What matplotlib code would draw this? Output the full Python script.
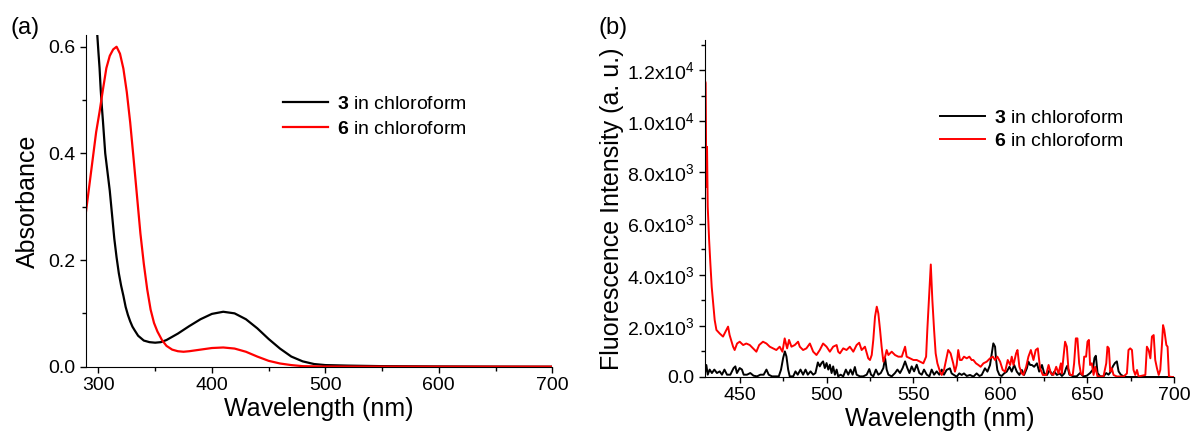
import matplotlib
matplotlib.use("Agg")
from matplotlib import pyplot as plt
from matplotlib.ticker import MultipleLocator, FixedLocator, FixedFormatter

plt.rcParams['font.family'] = ['Liberation Sans', 'DejaVu Sans']
plt.rcParams['mathtext.fontset'] = 'custom'
plt.rcParams['mathtext.rm'] = 'Liberation Sans'
plt.rcParams['mathtext.it'] = 'Liberation Sans:italic'
plt.rcParams['mathtext.bf'] = 'Liberation Sans:bold'

# (a) absorbance
abs_wl_3 = [296, 298, 299, 300, 301, 302, 303, 304, 306, 308, 310, 312, 314, 316, 318, 320,
            322, 324, 326, 328, 330, 332, 335, 340, 345, 350, 355, 360, 370, 380, 390, 400,
            410, 420, 430, 440, 450, 460, 470, 480, 490, 500, 520, 550, 600, 650, 700]
abs_3 = [0.75, 0.66, 0.622, 0.59, 0.56, 0.52, 0.488, 0.46, 0.40, 0.365, 0.33, 0.285, 0.24,
         0.205, 0.175, 0.152, 0.133, 0.112, 0.097, 0.085, 0.075, 0.068, 0.058, 0.049, 0.046,
         0.045, 0.046, 0.050, 0.062, 0.076, 0.089, 0.099, 0.103, 0.100, 0.089, 0.072, 0.052,
         0.034, 0.019, 0.010, 0.005, 0.003, 0.002, 0.001, 0.0005, 0.0002, 0.0]

abs_wl_6 = [289, 292, 295, 298, 301, 304, 307, 310, 313, 316, 319, 322, 325, 328, 331, 334,
            337, 340, 343, 346, 349, 352, 356, 360, 365, 370, 375, 380, 390, 400, 410, 420,
            430, 440, 450, 460, 470, 480, 500, 550, 600, 700]
abs_6 = [0.29, 0.34, 0.39, 0.44, 0.478, 0.52, 0.56, 0.583, 0.595, 0.600, 0.587, 0.559, 0.515,
         0.458, 0.39, 0.32, 0.25, 0.193, 0.145, 0.107, 0.082, 0.066, 0.050, 0.039, 0.032,
         0.029, 0.028, 0.029, 0.032, 0.035, 0.036, 0.034, 0.028, 0.019, 0.011, 0.006, 0.003,
         0.001, 0.0003, 0.0001, 0.0, 0.0]

# (b) fluorescence
fl_wl_6 = [430.0, 430.4, 430.8, 431.2, 431.6, 432.4, 433.1, 433.9, 434.7, 435.6, 436.6, 438.5,
           440.4, 441.3, 443.3, 444.2, 446.2, 447.1, 448.5, 450, 452, 453.8, 455.8, 457.7,
           459.6, 461.2, 463.4, 465.4, 467.3, 469.2, 471.1, 473, 474.6, 475.9, 477.3, 478.4,
           479.8, 481.7, 483.6, 484.6, 486.5, 488.4, 490.4, 492.3, 494.2, 496.1, 498, 500,
           501.9, 503.8, 505.8, 506.7, 507.7, 509.6, 511.5, 513.4, 515.4, 517.3, 518.8, 520.2,
           522.1, 524, 525, 526, 526.9, 527.9, 528.9, 529.8, 530.8, 531.7, 532.7, 533.7, 534.6,
           535.6, 537.5, 539.4, 541.3, 543.3, 545.2, 546.1, 548, 550, 551.9, 553.8, 555.7,
           557.3, 558, 559, 560, 560.9, 561.9, 562.8, 563.8, 565.3, 566.3, 567.6, 569.2, 570.0,
           571.4, 572.9, 573.9, 574.9, 575.8, 576.8, 577.8, 579.1, 580.7, 582.2, 583.5, 584.5,
           586, 587.4, 588.7, 590.3, 592.2, 594.1, 595.7, 597, 598.3, 599.9, 601.4, 602.8,
           604.3, 605.7, 606.6, 607.6, 609.1, 609.9, 611, 612.4, 613.3, 614.9, 616.2, 617.6,
           619.1, 620.4, 621.6, 622.9, 624.5, 626.4, 627.8, 629.1, 630.6, 632.2, 633.5, 634.9,
           635.4, 636.4, 637.3, 638.3, 639.2, 640.2, 641.7, 642.5, 643.5, 644.4, 645.4, 646.4,
           647.5, 648.3, 649.4, 650.2, 651, 651.7, 652.7, 653.7, 654.6, 656, 659.4, 661, 661.7,
           662.5, 663.3, 664.2, 665.2, 667.1, 671, 672.9, 673.8, 674.8, 675.8, 676.7, 677.7,
           678.7, 679.6, 683.5, 684.4, 685.4, 686.4, 687.3, 688.3, 689.2, 690.2, 691.2, 692.1,
           693.1, 693.7, 694.4, 695.6, 696.3, 697.1, 698.8, 700]
fl_6 = [11600, 11500, 7440, 9000, 6660, 5360, 4460, 3520, 2890, 2230, 1840, 1700,
        1580, 1700, 1970, 1640, 1185, 1055, 1310, 1380, 1250, 1310, 1250, 1120,
        990, 1250, 1380, 1310, 1185, 1120, 1055, 1185, 990, 1510, 1120, 1450,
        1185, 1250, 1380, 1185, 1055, 1120, 1310, 990, 860, 1055, 1310, 1185,
        990, 1185, 1250, 990, 925, 1120, 1055, 1185, 990, 1250, 1340, 1055,
        1185, 730, 665, 860, 1450, 2360, 2750, 2490, 1840, 1185, 600, 795, 1055,
        860, 990, 860, 795, 795, 1185, 795, 730, 665, 665, 600, 535,
        795, 1840, 3140, 4400, 3010, 1840, 925, 535, 210, 80, 275, 795, 1055,
        925, 535, 210, 470, 1055, 665, 665, 795, 730, 795, 665, 665,
        535, 470, 400, 535, 600, 730, 795, 665, 795, 600, 275, 210,
        665, 470, 795, 470, 925, 1055, 400, 140, 80, 400, 795, 1055,
        665, 1055, 1120, 340, 80, 80, 470, 140, 80, 400, 140, 535,
        140, 795, 1380, 1185, 340, 80, 80, 535, 1510, 1510, 535, 140,
        80, 795, 795, 1380, 1450, 470, 535, 80, 400, 20, 20, 535, 1185,
        1120, 210, 340, 80, 20, 20, 140, 1055, 1120, 1055, 275, 80,
        275, 20, 80, 1185, 1055, 730, 1580, 1640, 665, 340, 80, 275,
        1310, 2030, 1840, 1250, 1185, 20, 0, 0]

fl_wl_3 = [430.0, 430.8, 431.6, 432.7, 434, 435.4, 436.9, 438.5, 439.8, 441.2, 442.7, 444.6,
           446.5, 447.5, 448.4, 450, 451.3, 452.3, 454.2, 456.1, 458, 460, 461.9, 463.8,
           465.4, 466.7, 468.6, 470.6, 472.5, 473.8, 475, 476, 476.9, 477.9, 478.8, 480.8,
           482.1, 483.4, 485, 486.5, 487.9, 489.2, 490.8, 492.3, 493.6, 495, 496.1, 497.1,
           498, 499, 500, 501, 501.9, 502.9, 503.8, 504.8, 505.8, 506.7, 508.1, 509.6,
           511.1, 512.5, 513.8, 515, 516.3, 517.3, 519.2, 521.1, 523.1, 524.6, 525.6, 526.9,
           528.4, 529.8, 531.2, 532.7, 533.7, 534.6, 535.6, 537.5, 539.4, 540.8, 542.3, 543.8,
           545.2, 546.5, 547.7, 549, 550.4, 551.9, 553.4, 554.8, 556.1, 557.7, 559.2, 560.5,
           561.9, 563.4, 564.9, 566.3, 567.6, 569.1, 571, 572, 573.3, 574.9, 576.4, 577.8,
           579.1, 580.7, 582.6, 584.5, 586.4, 588, 589.3, 591.2, 592.6, 594.1, 595.1, 596,
           597, 597.6, 598.3, 599.5, 600.8, 602.2, 603.7, 605.3, 606.6, 608, 609.5, 611,
           612.4, 613.7, 615.3, 616.2, 617.2, 618.2, 619.5, 621.1, 622.4, 624, 625.3, 626.9,
           628.4, 629.8, 631.1, 632.6, 634.2, 635.5, 636.9, 637.9, 638.6, 639.8, 642.1, 644,
           645.9, 647.9, 649.8, 651.7, 653.3, 654.2, 655, 656, 657.5, 659.4, 661, 662.3,
           663.7, 664.8, 666, 667.1, 668.1, 669.4, 671, 672.9, 700]
fl_3 = [150, 470, 90, 290, 155, 290, 155, 220, 90, 290, 90, 90,
        350, 415, 155, 350, 290, 90, 90, 155, 50, 25, 90, 90,
        290, 90, 25, 25, 25, 290, 740, 1000, 805, 290, 25, 25,
        220, 90, 290, 90, 290, 90, 220, 90, 155, 570, 415, 545,
        610, 350, 545, 290, 480, 155, 415, 90, 290, 25, 90, 25,
        290, 90, 290, 90, 390, 90, 25, 25, 90, 310, 90, 25,
        290, 90, 155, 350, 740, 290, 90, 25, 155, 290, 155, 350,
        610, 350, 155, 415, 220, 480, 155, 90, 290, 90, 25, 290,
        90, 220, 90, 290, 90, 275, 340, 140, 80, 13, 140, 80,
        140, 40, 80, 13, 140, 40, 80, 340, 210, 470, 925, 1315,
        1185, 665, 275, 80, 40, 140, 210, 400, 210, 470, 210, 80,
        275, 80, 340, 600, 470, 470, 400, 535, 210, 470, 140, 80,
        275, 80, 210, 80, 140, 40, 140, 350, 440, 90, 25, 25,
        155, 25, 50, 155, 290, 740, 830, 155, 25, 25, 155, 90,
        220, 415, 545, 610, 220, 90, 25, 0, 0]

fl_ticks = [0, 2000, 4000, 6000, 8000, 10000, 12000]
fl_tick_labels = ['0.0', '2.0x10$^3$', '4.0x10$^3$', '6.0x10$^3$', '8.0x10$^3$',
                  '1.0x10$^4$', '1.2x10$^4$']

fig = plt.figure(figsize=(11.92, 4.37), dpi=100)
ax1 = fig.add_axes([0.0721, 0.1609, 0.3912, 0.759])
ax2 = fig.add_axes([0.5914, 0.1373, 0.3935, 0.7712])

for ax in (ax1, ax2):
    ax.spines['top'].set_visible(False)
    ax.spines['right'].set_visible(False)
    ax.tick_params(which='both', direction='out', labelsize=14, width=1)
    ax.tick_params(which='major', length=4)
    ax.tick_params(which='minor', length=3)

ax1.plot(abs_wl_3, abs_3, color='black', lw=1.6, label=r'$\mathbf{3}$ in chloroform')
ax1.plot(abs_wl_6, abs_6, color='#ff0000', lw=1.6, label=r'$\mathbf{6}$ in chloroform')
ax1.set_xlim(289, 700)
ax1.set_ylim(0, 0.622)
ax1.xaxis.set_major_locator(MultipleLocator(100))
ax1.xaxis.set_minor_locator(MultipleLocator(50))
ax1.yaxis.set_major_locator(MultipleLocator(0.2))
ax1.yaxis.set_minor_locator(MultipleLocator(0.1))
ax1.yaxis.set_major_formatter(plt.FormatStrFormatter('%.1f'))
ax1.set_xlabel('Wavelength (nm)', fontsize=18, labelpad=2)
ax1.set_ylabel('Absorbance', fontsize=18, labelpad=6)
ax1.legend(loc='center left', bbox_to_anchor=(283/1192, 1-116.5/437), bbox_transform=fig.transFigure,
           frameon=False, fontsize=14, handlelength=2.3, handletextpad=0.5, labelspacing=0.35,
           borderpad=0, borderaxespad=0)
fig.text(10/1192, 1-28/437, '(a)', fontsize=17, va='center', ha='left')

ax2.plot(fl_wl_3, fl_3, color='black', lw=1.4, label=r'$\mathbf{3}$ in chloroform')
ax2.plot(fl_wl_6, fl_6, color='#ff0000', lw=1.4, label=r'$\mathbf{6}$ in chloroform')
ax2.set_xlim(430, 700)
ax2.set_ylim(0, 13180)
ax2.xaxis.set_major_locator(MultipleLocator(50))
ax2.xaxis.set_minor_locator(MultipleLocator(25))
ax2.yaxis.set_major_locator(FixedLocator(fl_ticks))
ax2.yaxis.set_major_formatter(FixedFormatter(fl_tick_labels))
ax2.yaxis.set_minor_locator(MultipleLocator(1000))
ax2.set_xlabel('Wavelength (nm)', fontsize=18, labelpad=2)
ax2.set_ylabel('Fluorescence Intensity (a. u.)', fontsize=18, labelpad=2)
ax2.legend(loc='center left', bbox_to_anchor=(940/1192, 1-129.5/437), bbox_transform=fig.transFigure,
           frameon=False, fontsize=14, handlelength=2.3, handletextpad=0.5, labelspacing=0.25,
           borderpad=0, borderaxespad=0)
fig.text(598/1192, 1-28/437, '(b)', fontsize=17, va='center', ha='left')

fig.savefig('out.png', dpi=100)
